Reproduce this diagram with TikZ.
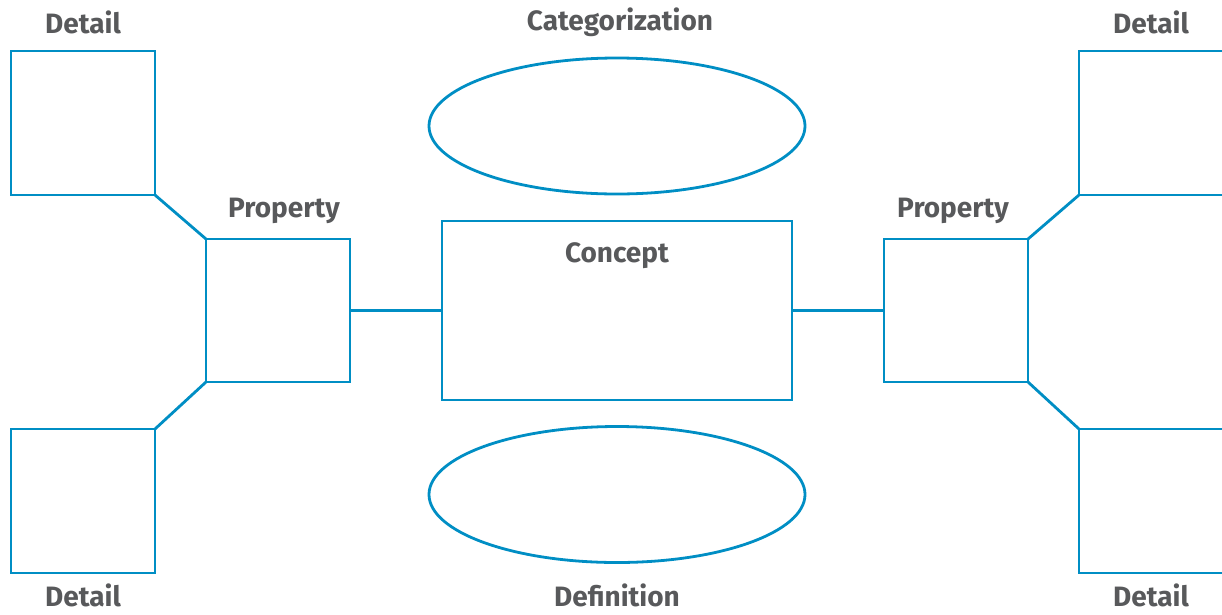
\documentclass[tikz,border=0pt]{standalone}
\usepackage{fontspec}
\setmainfont{Fira Sans}
\usepackage{tikz}
\usetikzlibrary{shapes.geometric}
\usepackage{xcolor}
\definecolor{mapblue}{RGB}{0,142,196}
\definecolor{mapgrey}{RGB}{88,89,91}

\begin{document}
\begin{tikzpicture}[x=1pt,y=-1pt,
  box/.style={draw=mapblue,line width=2.8pt,inner sep=0pt,outer sep=0pt,
    minimum width=144pt,minimum height=144pt},
  oval/.style={draw=mapblue,line width=2.8pt,ellipse,inner sep=0pt,outer sep=0pt,
    minimum width=376pt,minimum height=136pt},
  lbl/.style={text=mapgrey,font=\bfseries\fontsize{28}{32}\selectfont,inner sep=0pt},
  link/.style={draw=mapblue,line width=2.8pt}]
  \useasboundingbox (0,0) rectangle (1222,614);

  % middle
  \node[draw=mapblue,line width=2.8pt,inner sep=0pt,outer sep=0pt,
    minimum width=350pt,minimum height=179pt] (concept) at (617,310.5) {};
  \node[lbl] (concepttext) at (617,256) {Concept};
  \node[oval] (categ) at (617,126) {};
  \node[lbl] (categtext) at (620,22) {Categorization};
  \node[oval] (defin) at (617,494.5) {};
  \node[lbl] (defintext) at (617,595) {Definition};

  % left side
  \node[box,minimum height=143pt] (propl) at (278,310.5) {};
  \node[lbl] (propltext) at (284,211) {Property};
  \node[box] (dettl) at (83,123) {};
  \node[lbl] (dettltext) at (83,22) {Detail};
  \node[box] (detbl) at (83,501) {};
  \node[lbl] (detbltext) at (83,595) {Detail};

  % right side
  \node[box,minimum height=143pt] (propr) at (956,310.5) {};
  \node[lbl] (proprtext) at (953,211) {Property};
  \node[box] (dettr) at (1151,123) {};
  \node[lbl] (dettrtext) at (1151,22) {Detail};
  \node[box] (detbr) at (1151,501) {};
  \node[lbl] (detbrtext) at (1151,595) {Detail};

  \draw[link] (propl.east) -- (concept.west);
  \draw[link] (concept.east) -- (propr.west);
  \draw[link] (dettl.south east) -- (propl.north west);
  \draw[link] (detbl.north east) -- (propl.south west);
  \draw[link] (propr.north east) -- (dettr.south west);
  \draw[link] (propr.south east) -- (detbr.north west);
\end{tikzpicture}
\end{document}
